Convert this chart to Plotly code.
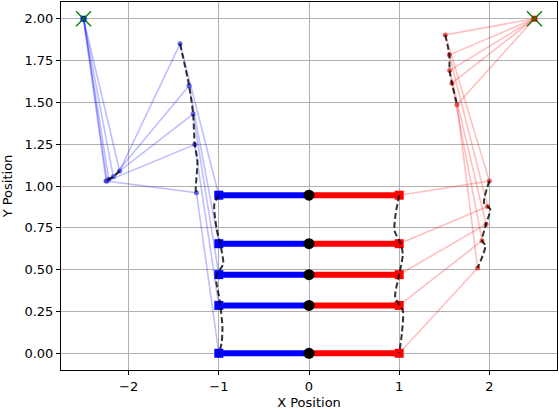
import plotly.graph_objects as go

# ---- data ----
end_y = [0.945, 0.655, 0.47, 0.286, 0.0]

blue_base = (-2.5, 2.0)
blue_elbow_x = [-2.10, -2.17, -2.22, -2.24, -2.25]
blue_elbow_y = [1.09, 1.055, 1.04, 1.03, 1.03]
blue_wrist_x = [-1.43, -1.33, -1.285, -1.267, -1.248]
blue_wrist_y = [1.85, 1.60, 1.43, 1.248, 0.96]
blue_end_x = [-1.0, -1.0, -1.0, -1.0, -1.0]

red_base = (2.5, 2.0)
red_elbow_x = [1.511, 1.556, 1.559, 1.585, 1.641]
red_elbow_y = [1.903, 1.784, 1.69, 1.615, 1.486]
red_wrist_x = [2.0, 1.981, 1.963, 1.919, 1.87]
red_wrist_y = [1.03, 0.877, 0.772, 0.673, 0.51]
red_end_x = [1.0, 1.0, 1.0, 1.0, 1.0]

center_x = [0.0, 0.0, 0.0, 0.0, 0.0]

# dashed trajectories
blue_elbow_traj_x = [-2.10, -2.17, -2.22, -2.24, -2.25]
blue_elbow_traj_y = [1.09, 1.055, 1.04, 1.03, 1.03]
blue_wrist_traj_x = [-1.43, -1.33, -1.285, -1.267, -1.237, -1.256, -1.248]
blue_wrist_traj_y = [1.85, 1.60, 1.43, 1.248, 1.15, 0.98, 0.96]
blue_end_traj_x = [-1.0, -1.05, -1.026, -0.98, -0.952, -1.03, -0.99, -0.96, -0.97, -1.0]
blue_end_traj_y = [0.945, 0.89, 0.752, 0.643, 0.534, 0.46, 0.315, 0.157, 0.058, 0.0]

red_elbow_traj_x = [1.511, 1.556, 1.559, 1.585, 1.641]
red_elbow_traj_y = [1.903, 1.784, 1.69, 1.615, 1.486]
red_wrist_traj_x = [2.0, 1.94, 1.981, 2.01, 1.963, 1.919, 1.956, 1.87]
red_wrist_traj_y = [1.03, 0.90, 0.877, 0.861, 0.772, 0.673, 0.643, 0.51]
red_end_traj_x = [1.0, 0.96, 0.948, 1.011, 1.04, 1.0, 0.956, 1.04, 1.03, 1.0]
red_end_traj_y = [0.945, 0.83, 0.732, 0.663, 0.593, 0.47, 0.335, 0.256, 0.12, 0.0]

x_ticks = [-2, -1, 0, 1, 2]
y_ticks = [0.0, 0.25, 0.5, 0.75, 1.0, 1.25, 1.5, 1.75, 2.0]

fig = go.Figure()

def arm(base, ex, ey, wx, wy, endx, color_line, color_dot):
    for i in range(len(ex)):
        fig.add_trace(go.Scatter(
            x=[base[0], ex[i], wx[i], endx[i]],
            y=[base[1], ey[i], wy[i], end_y[i]],
            mode="lines", line=dict(color=color_line, width=1.6),
            hoverinfo="skip"))
    fig.add_trace(go.Scatter(
        x=list(ex) + list(wx), y=list(ey) + list(wy), mode="markers",
        marker=dict(color=color_dot, size=5), hoverinfo="skip"))

arm(blue_base, blue_elbow_x, blue_elbow_y, blue_wrist_x, blue_wrist_y, blue_end_x,
    "rgba(0,0,255,0.25)", "rgba(40,40,230,0.7)")
arm(red_base, red_elbow_x, red_elbow_y, red_wrist_x, red_wrist_y, red_end_x,
    "rgba(255,0,0,0.25)", "rgba(220,30,30,0.7)")

# bars
bx, by, rx, ry = [], [], [], []
for i, y in enumerate(end_y):
    bx += [blue_end_x[i], center_x[i], None]
    by += [y, y, None]
    rx += [center_x[i], red_end_x[i], None]
    ry += [y, y, None]
fig.add_trace(go.Scatter(x=bx, y=by, mode="lines", line=dict(color="#0000ff", width=6), hoverinfo="skip"))
fig.add_trace(go.Scatter(x=rx, y=ry, mode="lines", line=dict(color="#ff0000", width=6), hoverinfo="skip"))
fig.add_trace(go.Scatter(x=blue_end_x, y=end_y, mode="markers",
                         marker=dict(symbol="square", size=9, color="#0000ff"), hoverinfo="skip"))
fig.add_trace(go.Scatter(x=red_end_x, y=end_y, mode="markers",
                         marker=dict(symbol="square", size=9, color="#ff0000"), hoverinfo="skip"))
fig.add_trace(go.Scatter(x=center_x, y=end_y, mode="markers",
                         marker=dict(symbol="circle", size=11, color="black"), hoverinfo="skip"))

# dashed trajectories
for tx, ty in [(blue_elbow_traj_x, blue_elbow_traj_y), (blue_wrist_traj_x, blue_wrist_traj_y),
               (blue_end_traj_x, blue_end_traj_y), (red_elbow_traj_x, red_elbow_traj_y),
               (red_wrist_traj_x, red_wrist_traj_y), (red_end_traj_x, red_end_traj_y)]:
    fig.add_trace(go.Scatter(x=tx, y=ty, mode="lines",
                             line=dict(color="rgba(0,0,0,0.8)", width=2, dash="6px,3px",
                                       shape="spline", smoothing=0.7),
                             hoverinfo="skip"))

# bases
fig.add_trace(go.Scatter(x=[blue_base[0]], y=[blue_base[1]], mode="markers",
                         marker=dict(symbol="square", size=6, color="#0000ff"), hoverinfo="skip"))
fig.add_trace(go.Scatter(x=[red_base[0]], y=[red_base[1]], mode="markers",
                         marker=dict(symbol="square", size=6, color="#ff0000"), hoverinfo="skip"))
fig.add_trace(go.Scatter(x=[blue_base[0], red_base[0]], y=[blue_base[1], red_base[1]], mode="markers",
                         marker=dict(symbol="x-thin", size=15, line=dict(color="green", width=1.3)),
                         hoverinfo="skip"))

axis_common = dict(showgrid=True, gridcolor="#b0b0b0", gridwidth=0.8, zeroline=False,
                   showline=True, linecolor="black", linewidth=1, mirror=True,
                   ticks="outside", ticklen=4, tickcolor="black", tickwidth=1,
                   tickfont=dict(size=13))

fig.update_layout(
    width=559, height=410,
    margin=dict(l=61, r=2, t=1, b=39),
    plot_bgcolor="white", paper_bgcolor="white",
    showlegend=False,
    font=dict(family="DejaVu Sans", size=13, color="black"),
    xaxis=dict(range=[-2.75, 2.75], tickvals=x_ticks,
               title=dict(text="X Position", standoff=6, font=dict(size=13)), **axis_common),
    yaxis=dict(range=[-0.1, 2.1], tickvals=y_ticks, tickformat=".2f",
               title=dict(text="Y Position", standoff=8, font=dict(size=13)), **axis_common),
)

fig.write_html("out.html")
